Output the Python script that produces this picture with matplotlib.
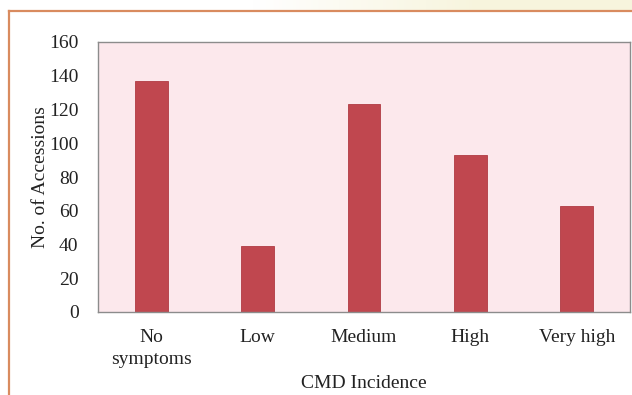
import numpy as np
import matplotlib.pyplot as plt
from matplotlib.lines import Line2D

# CMD incidence classes and the number of accessions in each
categories = ["No\nsymptoms", "Low", "Medium", "High", "Very high"]
accessions = [137, 39, 123, 93, 63]
y_ticks = [0, 20, 40, 60, 80, 100, 120, 140, 160]

plt.rcParams['font.family'] = ['Liberation Serif', 'DejaVu Serif']

W, H = 632, 395
FS = 14
fig = plt.figure(figsize=(W / 100, H / 100), dpi=100)
fig.patch.set_facecolor('white')

# pale yellow band above the frame, fading in towards the right
bg = fig.add_axes([0, 1 - 11 / H, 1, 11 / H])
grad = np.linspace(0, 1, 256)
cols = np.ones((1, 256, 3))
base = np.array([1.0, 1.0, 1.0])
tint = np.array([0.97, 0.96, 0.87])
w = np.clip((grad - 0.4) / 0.35, 0, 1)[:, None]
cols[0] = base * (1 - w) + tint * w
bg.imshow(cols, aspect='auto', extent=[0, 1, 0, 1])
bg.set_axis_off()

# orange frame along the left and top
frame_col = '#D98B5F'
fig.add_artist(Line2D([9 / W, 9 / W], [0, 1 - 11 / H], color=frame_col, lw=1.6,
                      transform=fig.transFigure))
fig.add_artist(Line2D([9 / W, 1], [1 - 11 / H, 1 - 11 / H], color=frame_col, lw=1.6,
                      transform=fig.transFigure))

left, right, top, bottom = 98, 630, 42, 312
ax = fig.add_axes([left / W, 1 - bottom / H, (right - left) / W, (bottom - top) / H])
ax.set_facecolor('#FCE8EC')

x = np.arange(len(categories))
ax.bar(x, accessions, width=0.31, color='#C0474F', edgecolor='#B03A43', linewidth=0.6)

ax.set_xlim(-0.5, len(categories) - 0.5)
ax.set_ylim(0, 160)
ax.set_yticks(y_ticks)
ax.set_xticks(x)
ax.set_xticklabels(categories, fontsize=FS, color='#222222', linespacing=1.4)
ax.tick_params(axis='both', length=0, labelsize=FS, colors='#222222')
ax.tick_params(axis='x', pad=12)
ax.tick_params(axis='y', pad=14)

for s in ax.spines.values():
    s.set_color('#8C8C8C')
    s.set_linewidth(1.0)

ax.set_ylabel("No. of Accessions", fontsize=FS, color='#222222', labelpad=0)
ax.set_xlabel("CMD Incidence", fontsize=FS, color='#222222', labelpad=5)

fig.savefig('out.png', dpi=100)
